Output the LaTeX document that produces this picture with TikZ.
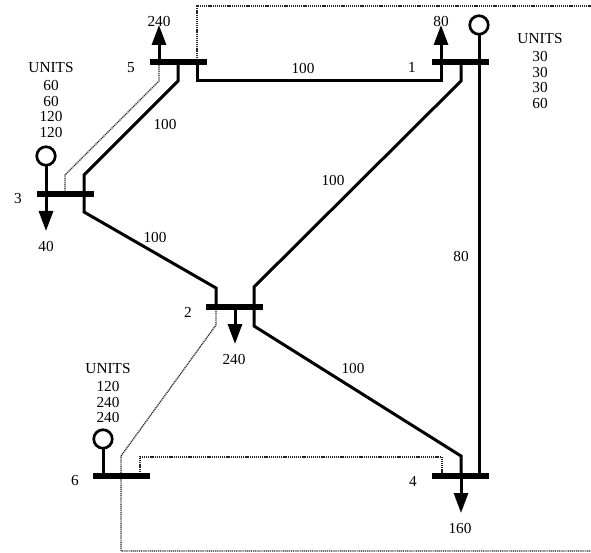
\documentclass[tikz,border=0pt]{standalone}
\usepackage{fontspec}
\setmainfont{Liberation Serif}
\usetikzlibrary{arrows.meta,calc}
\tikzset{
  busbar/.style={draw=none,fill=black,rectangle,minimum width=57pt,minimum height=6.5pt,inner sep=0pt,outer sep=0pt},
  gen/.style={circle,draw=black,line width=2.7pt,fill=white,minimum size=18.5pt,inner sep=0pt,outer sep=0pt},
  lbl/.style={inner sep=0pt,align=center,font=\fontsize{15.3}{15.7}\selectfont},
  mainline/.style={line width=3pt,line join=miter,draw=black},
  dotline/.style={line width=1.3pt,draw=black!85,dash pattern=on 1.1pt off 0.8pt},
  loadline/.style={line width=3pt,draw=black,-{Triangle[length=20pt,width=14pt]}}
}
\begin{document}
\begin{tikzpicture}[x=1pt,y=-1pt]
\useasboundingbox (0,0) rectangle (591,553);
% buses
\node[busbar] (b5) at (178,62) {};
\node[busbar] (b1) at (460.5,62) {};
\node[busbar] (b3) at (65,194) {};
\node[busbar] (b2) at (234.5,307) {};
\node[busbar] (b6) at (121.5,476) {};
\node[busbar] (b4) at (460.5,476) {};
% generators
\node[gen] (g1) at (479,25) {};
\node[gen] (g3) at (46,156) {};
\node[gen] (g6) at (103,439) {};
% load ends
\coordinate (l5) at (159,25);
\coordinate (l1) at (441,25);
\coordinate (l3) at (46,231);
\coordinate (l2) at (235,344);
\coordinate (l4) at (461,513);
% free ends at the picture edge
\coordinate (et) at (591,6);
\coordinate (eb) at (591,551);
% dotted lines
\draw[dotline] (b3) -- (65,175) -- (159,81) -- (159,62);
\draw[dotline] (197,62) -- (197,6) -- (et);
\draw[dotline] (216,307) -- (216,325) -- (121,456) -- (121,476) -- (121,551) -- (eb);
\draw[dotline] (140,476) -- (140,457) -- (442,457) -- (442,476);
% solid lines
\draw[mainline] (178,62) -- (178,81) -- (84,175) -- (84,194);
\draw[mainline] (197,62) -- (197,81) -- (441,81) -- (441,62);
\draw[mainline] (84,194) -- (84,212) -- (216,288) -- (216,307);
\draw[mainline] (254,307) -- (254,287) -- (461,81) -- (461,62);
\draw[mainline] (254,307) -- (254,326) -- (461,456) -- (461,476);
\draw[mainline] (g1) -- (479,476);
\draw[mainline] (g3) -- (46,194);
\draw[mainline] (g6) -- (103,476);
% loads
\draw[loadline] (159,62) -- (l5);
\draw[loadline] (441,62) -- (l1);
\draw[loadline] (46,194) -- (l3);
\draw[loadline] (235,307) -- (l2);
\draw[loadline] (461,476) -- (l4);
% bus redraw over lines
\node[busbar] at (b5) {};
\node[busbar] at (b1) {};
\node[busbar] at (b3) {};
\node[busbar] at (b2) {};
\node[busbar] at (b6) {};
\node[busbar] at (b4) {};
% labels
\node[lbl] (n5) at (131,67.5) {5};
\node[lbl] (n1) at (412,67.5) {1};
\node[lbl] (n3) at (18,199) {3};
\node[lbl] (n2) at (188,312) {2};
\node[lbl] (n6) at (75,481) {6};
\node[lbl] (n4) at (413,481) {4};
\node[lbl] (t5) at (159,21) {240};
\node[lbl] (t1) at (441,21) {80};
\node[lbl] (t3) at (46,246) {40};
\node[lbl] (t2) at (234,359) {240};
\node[lbl] (t4) at (460,528) {160};
\node[lbl] (c53) at (165,124) {100};
\node[lbl] (c51) at (303,68) {100};
\node[lbl] (c32) at (155,237) {100};
\node[lbl] (c21) at (333,180) {100};
\node[lbl] (c14) at (461,256) {80};
\node[lbl] (c24) at (353,368) {100};
\node[lbl,anchor=north] (u3) at (51,62.5) {UNITS\\[2pt]60\\60\\120\\120};
\node[lbl,anchor=north] (u1) at (540,33.5) {UNITS\\[2pt]30\\30\\30\\60};
\node[lbl,anchor=north] (u6) at (108,363.5) {UNITS\\[2pt]120\\240\\240};
\end{tikzpicture}
\end{document}
